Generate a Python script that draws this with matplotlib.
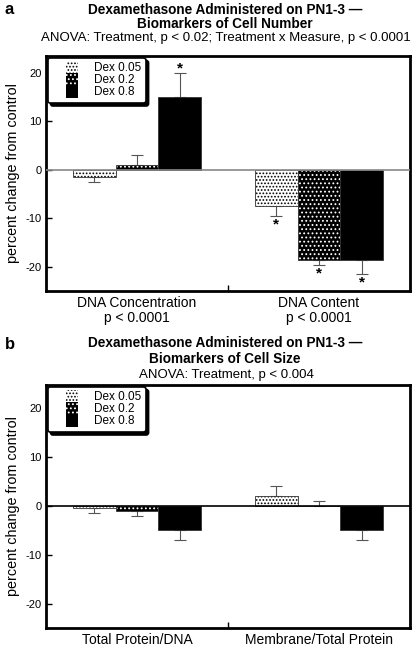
import numpy as np
import matplotlib
matplotlib.use("Agg")
import matplotlib.pyplot as plt
from matplotlib.patches import Rectangle
from matplotlib.legend_handler import HandlerPatch

plt.rcParams['font.family'] = ['Liberation Sans', 'DejaVu Sans']
plt.rcParams['axes.unicode_minus'] = False
plt.rcParams['hatch.color'] = 'black'
plt.rcParams['hatch.linewidth'] = 0.8

series = ['Dex 0.05', 'Dex 0.2', 'Dex 0.8']

# panel a: biomarkers of cell number
a_cats = ['DNA Concentration\np < 0.0001', 'DNA Content\np < 0.0001']
a_vals = [[-1.5, -7.5], [1.0, -18.6], [15.0, -18.5]]
a_err = [[1.0, 2.0], [2.0, 1.0], [5.0, 3.0]]
a_star = [[False, True], [False, True], [True, True]]

# panel b: biomarkers of cell size
b_cats = ['Total Protein/DNA', 'Membrane/Total Protein']
b_vals = [[-0.5, 2.0], [-1.0, 0.1], [-5.0, -5.0]]
b_err = [[1.0, 2.0], [1.0, 1.0], [2.0, 2.0]]
b_star = [[False, False], [False, False], [False, False]]

hatches = ['.....', '....', None]
faces = ['white', 'black', 'black']
hatch_cols = [(0, 0, 0, 1), (1, 1, 1, 1), (0, 0, 0, 1)]

W, H = 414, 647
fig = plt.figure(figsize=(W / 100, H / 100), dpi=100)
FS_TICK = 8
FS_CAT = 10
FS_LAB = 10.4


def px_axes(left, top, right, bottom):
    return fig.add_axes([left / W, 1 - bottom / H, (right - left) / W, (bottom - top) / H])


# legend square sits at the right end of the handle box
class SquareHandler(HandlerPatch):
    def create_artists(self, legend, orig_handle, xdescent, ydescent, width, height,
                       fontsize, trans):
        s = 9
        p = Rectangle((width - s - xdescent, -ydescent + (height - s) / 2), s, s)
        self.update_prop(p, orig_handle, legend)
        p._hatch_color = orig_handle._hatch_color
        p.set_linewidth(0)
        p.set_transform(trans)
        return [p]


def draw_panel(ax, cats, vals, errs, stars, ylim, zero_color):
    x = np.arange(len(cats))
    width = 0.235
    handles = []
    for i, name in enumerate(series):
        pos = x + (i - 1) * width
        v = np.array(vals[i])
        e = np.array(errs[i])
        bars = ax.bar(pos, v, width, color=faces[i], hatch=hatches[i], edgecolor='#333333',
                      linewidth=0.6, label=name, zorder=2)
        for b in bars:
            b._hatch_color = hatch_cols[i]
        handles.append(bars[0])
        lower = np.where(v < 0, e, 0)
        upper = np.where(v >= 0, e, 0)
        ax.errorbar(pos, v, yerr=[lower, upper], fmt='none', ecolor='#555555',
                    elinewidth=0.8, capsize=4, capthick=0.8, zorder=1)
        for j in range(len(cats)):
            if stars[i][j]:
                if v[j] >= 0:
                    y = v[j] + e[j] - 0.6
                else:
                    y = v[j] - e[j] - 3.2
                ax.text(pos[j], y, '*', ha='center', va='bottom', fontsize=11,
                        fontweight='bold')
    ax.axhline(0, color=zero_color, linewidth=1.2, zorder=3)
    ax.set_xlim(-0.5, len(cats) - 0.5)
    ax.set_ylim(*ylim)
    ax.set_yticks([-20, -10, 0, 10, 20])
    ax.set_xticks([0.5])
    ax.set_xticklabels([''])
    for j, c in enumerate(cats):
        ax.annotate(c, xy=(j, 0), xycoords=('data', 'axes fraction'), xytext=(0, -5),
                    textcoords='offset pixels', ha='center', va='top', fontsize=FS_CAT,
                    linespacing=1.05)
    ax.tick_params(axis='both', direction='in', length=4, width=1, labelsize=FS_TICK, pad=3)
    for s in ax.spines.values():
        s.set_linewidth(2)
    ax.set_ylabel('percent change from control', fontsize=FS_LAB, labelpad=4)
    leg = ax.legend(handles=handles, labels=series, loc='upper left', fontsize=8.5,
                    frameon=True, fancybox=True,
                    shadow={'color': 'black', 'alpha': 1},
                    handler_map={Rectangle: SquareHandler()},
                    handlelength=2.2, handleheight=0.7, handletextpad=1.3, borderpad=0.4,
                    labelspacing=0.0, borderaxespad=0.15, framealpha=1)
    leg.get_frame().set_edgecolor('black')
    leg.get_frame().set_linewidth(1.2)


ax_a = px_axes(46, 56, 410, 291)
draw_panel(ax_a, a_cats, a_vals, a_err, a_star, (-25, 23.5), '#888888')
ax_b = px_axes(46, 385, 410, 628)
draw_panel(ax_b, b_cats, b_vals, b_err, b_star, (-25, 24.8), 'black')

# titles
FS_T = 9.8
fig.text(5 / W, 1 - 10 / H, 'a', fontsize=12, fontweight='bold', va='center')
fig.text(225 / W, 1 - 10 / H, 'Dexamethasone Administered on PN1-3 \u2014', fontsize=FS_T,
         fontweight='bold', ha='center', va='center')
fig.text(225 / W, 1 - 24 / H, 'Biomarkers of Cell Number', fontsize=FS_T,
         fontweight='bold', ha='center', va='center')
fig.text(226 / W, 1 - 38 / H, 'ANOVA: Treatment, p < 0.02; Treatment x Measure, p < 0.0001',
         fontsize=9.5, ha='center', va='center')

fig.text(5 / W, 1 - 344 / H, 'b', fontsize=12, fontweight='bold', va='center')
fig.text(225 / W, 1 - 343 / H, 'Dexamethasone Administered on PN1-3 \u2014', fontsize=FS_T,
         fontweight='bold', ha='center', va='center')
fig.text(225 / W, 1 - 359 / H, 'Biomarkers of Cell Size', fontsize=FS_T,
         fontweight='bold', ha='center', va='center')
fig.text(226 / W, 1 - 375 / H, 'ANOVA: Treatment, p < 0.004',
         fontsize=9.5, ha='center', va='center')

fig.savefig('out.png', dpi=100)
